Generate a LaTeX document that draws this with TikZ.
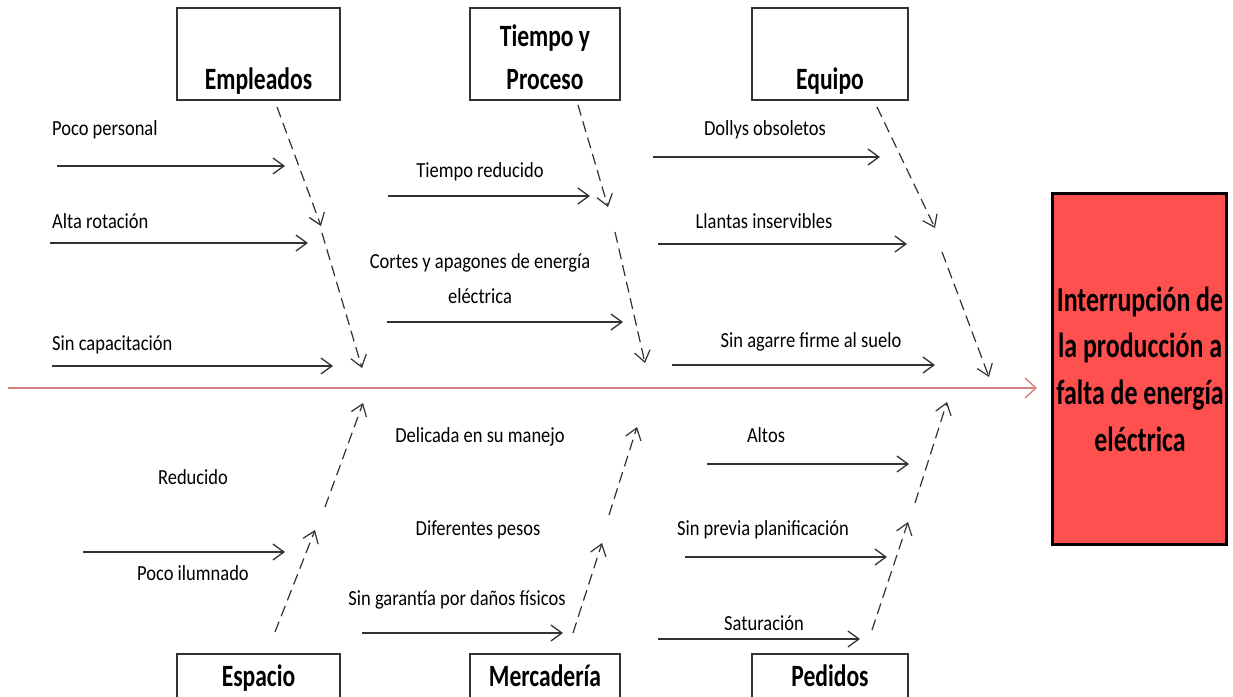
\documentclass[tikz,border=0pt]{standalone}
\usepackage{fontspec}
\setmainfont{Carlito}[FakeStretch=0.86]
\newfontfamily\boxfont{Carlito}[FakeStretch=0.76]
\newfontfamily\redfont{Carlito}[FakeStretch=0.74]
\usetikzlibrary{arrows.meta}
\definecolor{spinecol}{RGB}{214,128,128}
\definecolor{effectred}{RGB}{255,80,80}
\definecolor{inkgray}{RGB}{50,50,50}
\tikzset{
  catbox/.style={draw=inkgray, line width=1.4pt, fill=white, minimum width=163pt, minimum height=92pt, inner sep=0pt},
  cattext/.style={font=\boxfont\bfseries\fontsize{31}{43}\selectfont, anchor=base, inner sep=0pt, align=center},
  efftext/.style={font=\redfont\bfseries\fontsize{35}{47}\selectfont, anchor=base, inner sep=0pt},
  causetext/.style={font=\fontsize{21.5}{26}\selectfont, anchor=base, inner sep=0pt},
  causearrow/.style={draw=inkgray, line width=1.3pt, -{Straight Barb[length=11pt,width=16pt,line width=1.3pt]}},
  bonearrow/.style={draw=inkgray, line width=1.2pt, dash pattern=on 11pt off 6pt, -{Straight Barb[length=11pt,width=16pt,line width=1.2pt]}},
  spinearrow/.style={draw=spinecol, line width=1.6pt, -{Straight Barb[length=11pt,width=20pt,line width=1.4pt]}},
}
\begin{document}
\begin{tikzpicture}[x=1pt,y=-1pt]
\clip (0,0) rectangle (1233,696);
\fill[white] (0,0) rectangle (1233,696);

% category boxes
\node[catbox] (emp) at (258.5,54) {};
\node[catbox, minimum width=150pt] (tie) at (545,54) {};
\node[catbox, minimum width=156pt] (equ) at (830,54) {};
\node[catbox] (esp) at (258.5,700) {};
\node[catbox, minimum width=150pt] (mer) at (545,700) {};
\node[catbox, minimum width=156pt] (ped) at (830,700) {};

\node[cattext] (empT) at (258.5,89) {Empleados};
\node[cattext] (tieT1) at (545,46) {Tiempo y};
\node[cattext] (tieT2) at (545,89) {Proceso};
\node[cattext] (equT) at (830,89) {Equipo};
\node[cattext] (espT) at (258.5,686) {Espacio};
\node[cattext] (merT) at (545,686) {Mercadería};
\node[cattext] (pedT) at (830,686) {Pedidos};

% effect box
\node[draw=black, line width=2.4pt, fill=effectred, minimum width=174pt, minimum height=351pt, inner sep=0pt] (eff) at (1139.5,369) {};
\node[efftext] (effT1) at (1140,311) {Interrupción de};
\node[efftext] (effT2) at (1140,357) {la producción a};
\node[efftext] (effT3) at (1140,404) {falta de energía};
\node[efftext] (effT4) at (1140,451) {eléctrica};

% spine
\coordinate (spS) at (8,388);
\coordinate (spE) at (1037,388);
\draw[spinearrow] (spS) -- (spE);

% dashed bones (top)
\coordinate (b1a) at (277,107); \coordinate (b1b) at (321,226);
\coordinate (b1c) at (322,233); \coordinate (b1d) at (362,368);
\coordinate (b2a) at (578,105); \coordinate (b2b) at (608,207);
\coordinate (b2c) at (615,232); \coordinate (b2d) at (645,363);
\coordinate (b3a) at (877,107); \coordinate (b3b) at (935,228);
\coordinate (b3c) at (942,252); \coordinate (b3d) at (989,377);
% dashed bones (bottom)
\coordinate (b4a) at (275,632); \coordinate (b4b) at (315,530);
\coordinate (b4c) at (325,507); \coordinate (b4d) at (363,403);
\coordinate (b5a) at (573,633); \coordinate (b5b) at (602,543);
\coordinate (b5c) at (609,515); \coordinate (b5d) at (637,427);
\coordinate (b6a) at (872,630); \coordinate (b6b) at (908,522);
\coordinate (b6c) at (915,503); \coordinate (b6d) at (947,402);
\foreach \p in {1,...,6}{
  \draw[bonearrow] (b\p a) -- (b\p b);
  \draw[bonearrow] (b\p c) -- (b\p d);
}

% causes: Empleados
\node[causetext, anchor=base west] (c1) at (52,135) {Poco personal};
\coordinate (c1s) at (57,166); \coordinate (c1e) at (285,166);
\node[causetext, anchor=base west] (c2) at (52,228) {Alta rotación};
\coordinate (c2s) at (50,243); \coordinate (c2e) at (308,243);
\node[causetext, anchor=base west] (c3) at (52,350) {Sin capacitación};
\coordinate (c3s) at (52,366); \coordinate (c3e) at (333,366);

% causes: Tiempo y Proceso
\node[causetext] (c4) at (480,177) {Tiempo reducido};
\coordinate (c4s) at (388,196); \coordinate (c4e) at (590,196);
\node[causetext] (c5a) at (480,268) {Cortes y apagones de energía};
\node[causetext] (c5b) at (480,303) {eléctrica};
\coordinate (c5s) at (387,322); \coordinate (c5e) at (623,322);

% causes: Equipo
\node[causetext] (c6) at (765,135) {Dollys obsoletos};
\coordinate (c6s) at (653,157); \coordinate (c6e) at (880,157);
\node[causetext] (c7) at (764,228) {Llantas inservibles};
\coordinate (c7s) at (658,244); \coordinate (c7e) at (907,244);
\node[causetext] (c8) at (811,347) {Sin agarre firme al suelo};
\coordinate (c8s) at (672,365); \coordinate (c8e) at (935,365);

% causes: Espacio
\node[causetext] (c9) at (193,484) {Reducido};
\coordinate (c9s) at (83,552); \coordinate (c9e) at (285,552);
\node[causetext] (c10) at (193,580) {Poco ilumnado};

% causes: Mercadería
\node[causetext] (c11) at (480,442) {Delicada en su manejo};
\node[causetext] (c12) at (478,535) {Diferentes pesos};
\node[causetext] (c13) at (457,605) {Sin garantía por daños físicos};
\coordinate (c13s) at (362,633); \coordinate (c13e) at (563,633);

% causes: Pedidos
\node[causetext] (c14) at (766,442) {Altos};
\coordinate (c14s) at (707,464); \coordinate (c14e) at (909,464);
\node[causetext] (c15) at (763,535) {Sin previa planificación};
\coordinate (c15s) at (685,557); \coordinate (c15e) at (887,557);
\node[causetext] (c16) at (764,630) {Saturación};
\coordinate (c16s) at (658,639); \coordinate (c16e) at (860,639);

\foreach \c in {c1,c2,c3,c4,c5,c6,c7,c8,c9,c13,c14,c15,c16}{
  \draw[causearrow] (\c s) -- (\c e);
}
\end{tikzpicture}
\end{document}
